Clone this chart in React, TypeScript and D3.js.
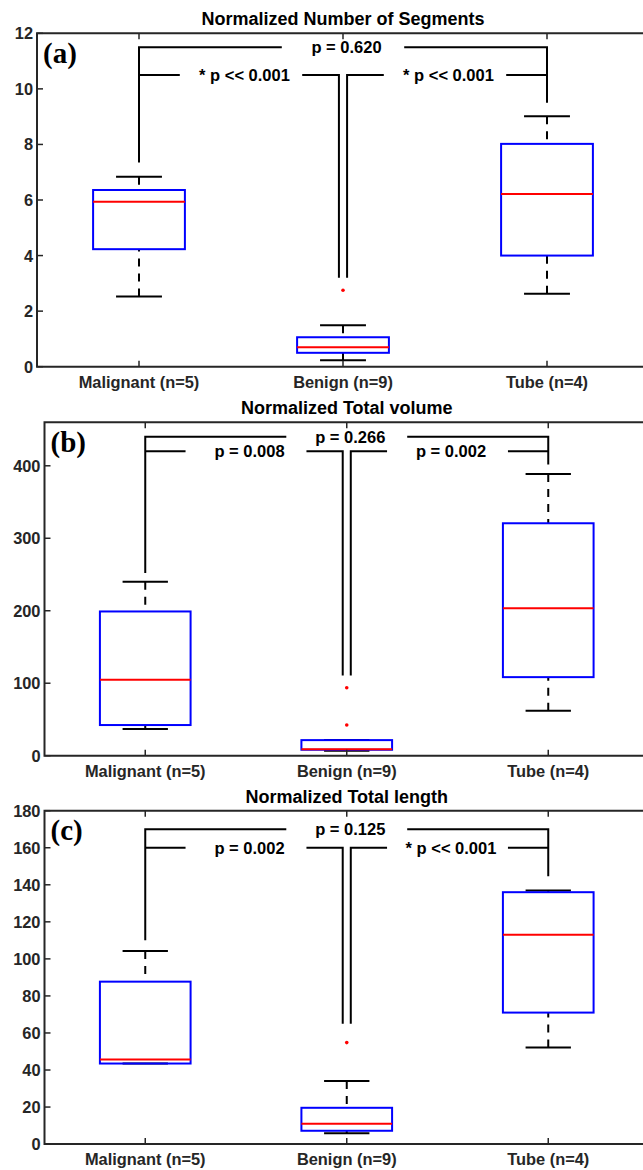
import React from "react";
import * as d3 from "d3";

// categories shared by all three panels
const categories = ["Malignant (n=5)", "Benign (n=9)", "Tube (n=4)"];

// box stats per group: [lower whisker, q1, median, q3, upper whisker]
const segmentsStats = [
  [2.53, 4.23, 5.94, 6.36, 6.84],
  [0.23, 0.5, 0.7, 1.06, 1.49],
  [2.63, 4.0, 6.22, 8.02, 9.01],
];
const segmentsOutliers = [[], [2.75], []];
const segmentsTicks = [0, 2, 4, 6, 8, 10, 12];
const segmentsPValues = ["p = 0.620", "* p << 0.001", "* p << 0.001"];
const segmentsBrackets = [11.5, 10.5];
const segmentsLegEnds = [7.35, 3.2, 9.5];

const volumeStats = [
  [36.8, 42.3, 104.7, 199, 240],
  [6.9, 8.2, 8.8, 21.5, 21.5],
  [62, 108.4, 203.5, 320.7, 388.6],
];
const volumeOutliers = [[], [93.7, 42.3], []];
const volumeTicks = [0, 100, 200, 300, 400];
const volumePValues = ["p = 0.266", "p = 0.008", "p = 0.002"];
const volumeBrackets = [440, 420];
const volumeLegEnds = [252, 110.6, 401.8];

const lengthStats = [
  [43.5, 43.5, 45.7, 87.7, 104.2],
  [5.9, 7.2, 11, 19.6, 34],
  [52.1, 71, 113, 136, 136.9],
];
const lengthOutliers = [[], [54.8], []];
const lengthTicks = [0, 20, 40, 60, 80, 100, 120, 140, 160, 180];
const lengthPValues = ["p = 0.125", "p = 0.002", "* p << 0.001"];
const lengthBrackets = [170, 160];
const lengthLegEnds = [110, 65, 144.6];

const panels = [
  {
    title: "Normalized Number of Segments",
    label: "(a)",
    stats: segmentsStats,
    outliers: segmentsOutliers,
    ticks: segmentsTicks,
    yMax: 12,
    pValues: segmentsPValues,
    brackets: segmentsBrackets,
    legEnds: segmentsLegEnds,
    top: 33.3,
    left: 37,
  },
  {
    title: "Normalized Total volume",
    label: "(b)",
    stats: volumeStats,
    outliers: volumeOutliers,
    ticks: volumeTicks,
    yMax: 460,
    pValues: volumePValues,
    brackets: volumeBrackets,
    legEnds: volumeLegEnds,
    top: 422.3,
    left: 44.5,
  },
  {
    title: "Normalized Total length",
    label: "(c)",
    stats: lengthStats,
    outliers: lengthOutliers,
    ticks: lengthTicks,
    yMax: 180,
    pValues: lengthPValues,
    brackets: lengthBrackets,
    legEnds: lengthLegEnds,
    top: 810.7,
    left: 44.5,
  },
];

const W = 643;
const H = 1170;
const right = 649;
const plotH = 333.4;
const boxHalf = 0.225;
const gapHalf = 0.3;
const legOff = 0.02;
const tickLen = 6;
const axisColor = "#262626";
const font = "'Liberation Sans', Arial, sans-serif";

function Panel({ p }: { p: any }) {
  const x = d3.scaleLinear().domain([0.5, 3.5]).range([p.left, right]);
  const y = d3.scaleLinear().domain([0, p.yMax]).range([p.top + plotH, p.top]);
  const bottom = p.top + plotH;
  const line = d3.line<[number, number]>().x((d) => x(d[0])).y((d) => y(d[1]));
  const [outer, inner] = p.brackets;
  const [leg1, leg2, leg3] = p.legEnds;

  const bracketPaths: [number, number][][] = [
    [[1, leg1], [1, outer], [2 - gapHalf, outer]],
    [[2 + gapHalf, outer], [3, outer], [3, leg3]],
    [[1, inner], [1.5 - gapHalf, inner]],
    [[1.5 + gapHalf, inner], [2 - legOff, inner], [2 - legOff, leg2]],
    [[2 + legOff, leg2], [2 + legOff, inner], [2.5 - gapHalf, inner]],
    [[2.5 + gapHalf, inner], [3, inner]],
  ];
  const pText = [
    { cx: 2, v: outer, t: p.pValues[0] },
    { cx: 1.5, v: inner, t: p.pValues[1] },
    { cx: 2.5, v: inner, t: p.pValues[2] },
  ];

  return (
    <g>
      {/* title */}
      <text
        x={(p.left + right) / 2}
        y={p.top - 8}
        textAnchor="middle"
        fontFamily={font}
        fontWeight="bold"
        fontSize={18}
        fill="#000"
      >
        {p.title}
      </text>

      {/* boxes */}
      {p.stats.map((s: number[], i: number) => {
        const c = i + 1;
        return (
          <g key={i}>
            <line x1={x(c)} x2={x(c)} y1={y(s[4])} y2={y(s[3])} stroke="#000" strokeWidth={2} strokeDasharray="8,7" />
            <line x1={x(c)} x2={x(c)} y1={y(s[0])} y2={y(s[1])} stroke="#000" strokeWidth={2} strokeDasharray="8,7" />
            <line x1={x(c - boxHalf / 2)} x2={x(c + boxHalf / 2)} y1={y(s[4])} y2={y(s[4])} stroke="#000" strokeWidth={2} />
            <line x1={x(c - boxHalf / 2)} x2={x(c + boxHalf / 2)} y1={y(s[0])} y2={y(s[0])} stroke="#000" strokeWidth={2} />
            <rect
              x={x(c - boxHalf)}
              y={y(s[3])}
              width={x(c + boxHalf) - x(c - boxHalf)}
              height={y(s[1]) - y(s[3])}
              fill="none"
              stroke="#0000ff"
              strokeWidth={2}
            />
            <line x1={x(c - boxHalf)} x2={x(c + boxHalf)} y1={y(s[2])} y2={y(s[2])} stroke="#ff0000" strokeWidth={2} />
            {p.outliers[i].map((o: number, j: number) => (
              <circle key={j} cx={x(c)} cy={y(o)} r={1.8} fill="#ff0000" />
            ))}
          </g>
        );
      })}

      {/* significance brackets */}
      {bracketPaths.map((d, i) => (
        <path key={i} d={line(d) || ""} fill="none" stroke="#000" strokeWidth={2} />
      ))}
      {pText.map((d, i) => (
        <text
          key={i}
          x={x(d.cx) + 3.5}
          y={y(d.v) + 6}
          textAnchor="middle"
          fontFamily={font}
          fontWeight="bold"
          fontSize={16.5}
          fill="#000"
        >
          {d.t}
        </text>
      ))}

      {/* axes box */}
      <path
        d={`M${right},${p.top}H${p.left}V${bottom}H${right}V${p.top}`}
        fill="none"
        stroke={axisColor}
        strokeWidth={2}
      />
      {p.ticks.map((t: number) => (
        <g key={t}>
          <line x1={p.left} x2={p.left + tickLen} y1={y(t)} y2={y(t)} stroke={axisColor} strokeWidth={1.5} />
          <line x1={right} x2={right - tickLen} y1={y(t)} y2={y(t)} stroke={axisColor} strokeWidth={1.5} />
          <text
            x={p.left - 4}
            y={y(t) + 6}
            textAnchor="end"
            fontFamily={font}
            fontWeight="bold"
            fontSize={16.4}
            fill={axisColor}
          >
            {t}
          </text>
        </g>
      ))}
      {categories.map((c, i) => (
        <g key={c}>
          <line x1={x(i + 1)} x2={x(i + 1)} y1={bottom} y2={bottom - tickLen} stroke={axisColor} strokeWidth={1.5} />
          <line x1={x(i + 1)} x2={x(i + 1)} y1={p.top} y2={p.top + tickLen} stroke={axisColor} strokeWidth={1.5} />
          <text
            x={x(i + 1)}
            y={bottom + 21}
            textAnchor="middle"
            fontFamily={font}
            fontWeight="bold"
            fontSize={16.4}
            fill={axisColor}
          >
            {c}
          </text>
        </g>
      ))}

      {/* panel label */}
      <text
        x={p.left + 6}
        y={p.top + 29.5}
        fontFamily="'Liberation Serif', 'Times New Roman', serif"
        fontWeight="bold"
        fontSize={29}
        fill="#000"
      >
        {p.label}
      </text>
    </g>
  );
}

export default function App() {
  return (
    <svg
      width={W}
      height={H}
      style={{ position: "absolute", left: 0, top: 0, background: "#fff" }}
    >
      {panels.map((p) => (
        <Panel key={p.label} p={p} />
      ))}
    </svg>
  );
}
